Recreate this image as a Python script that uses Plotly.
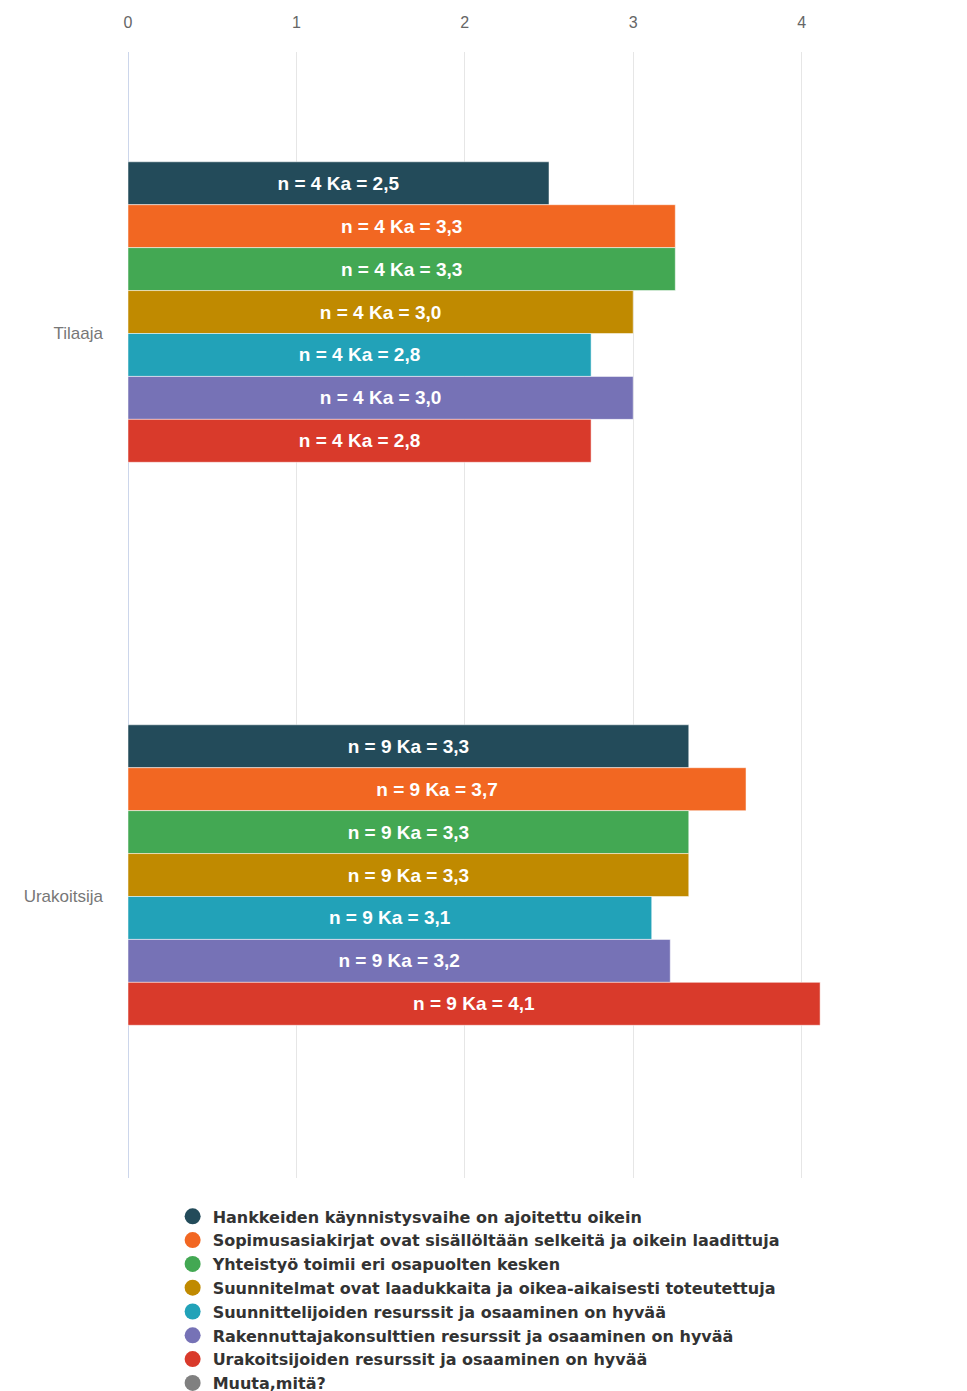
import plotly.graph_objects as go

# categories (y axis) and series
groups = ["Tilaaja", "Urakoitsija"]
series = [
    "Hankkeiden käynnistysvaihe on ajoitettu oikein",
    "Sopimusasiakirjat ovat sisällöltään selkeitä ja oikein laadittuja",
    "Yhteistyö toimii eri osapuolten kesken",
    "Suunnitelmat ovat laadukkaita ja oikea-aikaisesti toteutettuja",
    "Suunnittelijoiden resurssit ja osaaminen on hyvää",
    "Rakennuttajakonsulttien resurssit ja osaaminen on hyvää",
    "Urakoitsijoiden resurssit ja osaaminen on hyvää",
    "Muuta,mitä?",
]
colors = ["#234b5a", "#f26722", "#43a853", "#c08a00",
          "#22a2b8", "#7672b6", "#d93a2b", "#808080"]

# mean values per series: [Tilaaja, Urakoitsija]
means = [
    [2.5, 3.33],
    [3.25, 3.67],
    [3.25, 3.33],
    [3.0, 3.33],
    [2.75, 3.11],
    [3.0, 3.22],
    [2.75, 4.11],
    [None, None],
]
n_counts = [4, 9]
ka_labels = [
    ["2,5", "3,3"],
    ["3,3", "3,7"],
    ["3,3", "3,3"],
    ["3,0", "3,3"],
    ["2,8", "3,1"],
    ["3,0", "3,2"],
    ["2,8", "4,1"],
    ["", ""],
]
x_ticks = [0, 1, 2, 3, 4, 5]

FONT = "Liberation Sans, Arial, sans-serif"

fig = go.Figure()

for i, name in enumerate(series):
    texts = []
    for j in range(len(groups)):
        if means[i][j] is None:
            texts.append("")
        else:
            texts.append("n = %d Ka = %s" % (n_counts[j], ka_labels[i][j]))
    fig.add_trace(go.Bar(
        y=groups, x=means[i], orientation="h", name=name,
        marker=dict(color=colors[i], line=dict(color="rgba(255,255,255,0.5)", width=1)),
        text=texts, textposition="inside", insidetextanchor="middle",
        textfont=dict(color="white", size=19, family=FONT, weight="bold"),
        showlegend=False, hoverinfo="skip",
    ))
    # circle legend entry
    fig.add_trace(go.Scatter(
        x=[None], y=[None], mode="markers", name=name,
        marker=dict(color=colors[i], size=19, symbol="circle"),
        showlegend=True,
    ))

# page body adds an 8px offset, margins are set to compensate
fig.update_layout(
    width=967, height=1391,
    margin=dict(l=120, r=5, t=44, b=221, autoexpand=False),
    paper_bgcolor="white", plot_bgcolor="white",
    barmode="group", bargap=0.39, bargroupgap=0.0,
    font=dict(family=FONT, color="#666666"),
    legend=dict(
        orientation="v", x=0.053, xanchor="left", y=-0.019, yanchor="top",
        font=dict(size=16, color="#333333", family="DejaVu Sans", weight="bold"),
        itemsizing="trace", tracegroupgap=0,
    ),
    xaxis=dict(
        side="top", range=[0, 5], tickvals=x_ticks,
        showgrid=True, gridcolor="#e6e6e6", gridwidth=1,
        zeroline=True, zerolinecolor="#ccd6eb", zerolinewidth=1,
        tickfont=dict(size=16, color="#666666"),
        ticklabelstandoff=20, showline=False, automargin=False,
    ),
    yaxis=dict(
        autorange="reversed", showgrid=False, zeroline=False,
        tickfont=dict(size=17, color="#777777"),
        ticklabelstandoff=24, showline=False, automargin=False,
    ),
)

fig.write_html("out.html")
